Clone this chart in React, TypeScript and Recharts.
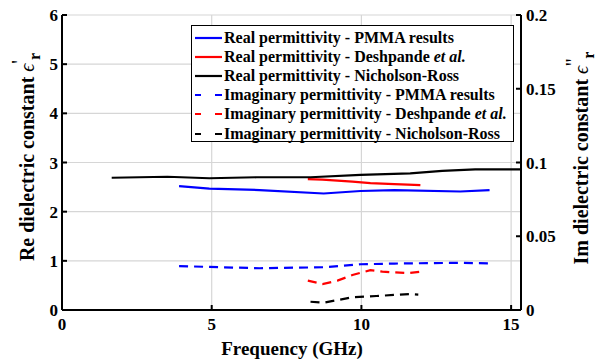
import React from "react";
import {
  ComposedChart,
  Line,
  XAxis,
  YAxis,
  CartesianGrid,
} from "recharts";

// PMMA measurement (real and imaginary share frequencies)
const pmmaFreq = [3.91, 4.92, 6.6, 8.74, 9.97, 11.1, 13.3, 14.28];
const pmmaReal = [2.52, 2.47, 2.44, 2.37, 2.42, 2.44, 2.41, 2.44];
const pmmaImag = [0.0298, 0.0292, 0.0283, 0.029, 0.031, 0.0315, 0.032, 0.0316];

// Deshpande et al. reference values
const deshFreq = [8.21, 8.7, 9.2, 9.7, 10.3, 10.7, 11.1, 11.55, 11.97];
const deshReal = [2.66, 2.65, 2.63, 2.61, 2.58, 2.57, 2.56, 2.55, 2.54];
const deshImag = [0.0199, 0.0176, 0.0199, 0.0237, 0.027, 0.026, 0.0255, 0.025, 0.026];

// Nicholson-Ross extraction
const nrRealFreq = [1.66, 3.52, 4.92, 6.5, 8.3, 9.97, 11.63, 12.7, 13.8, 15.33];
const nrReal = [2.69, 2.71, 2.68, 2.7, 2.7, 2.75, 2.78, 2.83, 2.86, 2.86];
const nrImagFreq = [8.3, 8.74, 9.7, 10.5, 11.6, 11.9];
const nrImag = [0.0056, 0.005, 0.0086, 0.0095, 0.0108, 0.0104];

const freqTicks = [0, 5, 10, 15];
const reTicks = [0, 1, 2, 3, 4, 5, 6];
const imTicks = [0, 0.05, 0.1, 0.15, 0.2];

const zip = (f: number[], v: number[]) => f.map((x, i) => ({ f: x, v: v[i] }));

type Series = {
  name: string;
  italic?: string;
  data: { f: number; v: number }[];
  axis: "re" | "im";
  color: string;
  dashed: boolean;
};

const series: Series[] = [
  { name: "Real permittivity - PMMA results", data: zip(pmmaFreq, pmmaReal), axis: "re", color: "#0000ff", dashed: false },
  { name: "Real permittivity - Deshpande ", italic: "et al.", data: zip(deshFreq, deshReal), axis: "re", color: "#ff0000", dashed: false },
  { name: "Real permittivity - Nicholson-Ross", data: zip(nrRealFreq, nrReal), axis: "re", color: "#000000", dashed: false },
  { name: "Imaginary permittivity - PMMA results", data: zip(pmmaFreq, pmmaImag), axis: "im", color: "#0000ff", dashed: true },
  { name: "Imaginary permittivity - Deshpande ", italic: "et al.", data: zip(deshFreq, deshImag), axis: "im", color: "#ff0000", dashed: true },
  { name: "Imaginary permittivity - Nicholson-Ross", data: zip(nrImagFreq, nrImag), axis: "im", color: "#000000", dashed: true },
];

const FONT = "'Liberation Serif', 'DejaVu Serif', serif";
const tickStyle = { fontFamily: FONT, fontSize: 17, fontWeight: 700, fill: "#000" };

function Legend() {
  return (
    <div
      style={{
        position: "absolute",
        left: 191,
        top: 25,
        width: 323,
        height: 117,
        border: "1.5px solid #000",
        background: "#fff",
        boxSizing: "border-box",
        padding: "2px 0 0 3px",
      }}
    >
      {series.map((s) => (
        <div
          key={s.name + s.axis}
          style={{ display: "flex", alignItems: "center", height: 19.2, fontFamily: FONT, fontSize: 16, fontWeight: 700, whiteSpace: "nowrap" }}
        >
          <svg width={27} height={6} style={{ marginRight: 2 }}>
            <line
              x1={0}
              y1={3}
              x2={27}
              y2={3}
              stroke={s.color}
              strokeWidth={2.2}
              strokeDasharray={s.dashed ? "6 14 7" : undefined}
            />
          </svg>
          <span>
            {s.name}
            {s.italic && <i>{s.italic}</i>}
          </span>
        </div>
      ))}
    </div>
  );
}

export default function App() {
  return (
    <div style={{ position: "fixed", left: 0, top: 0, width: 601, height: 362, background: "#fff" }}>
      <ComposedChart width={601} height={362} margin={{ top: 15, right: 20, bottom: 22, left: 12 }}>
        <CartesianGrid stroke="#d6d6d6" strokeWidth={1.2} yAxisId="re" />
        <XAxis
          dataKey="f"
          type="number"
          domain={[0, 15.33]}
          allowDataOverflow
          ticks={freqTicks}
          height={30}
          tick={tickStyle}
          tickSize={-5}
          tickMargin={13}
          stroke="#000"
          strokeWidth={2}
        />
        <XAxis
          xAxisId="top"
          dataKey="f"
          type="number"
          orientation="top"
          domain={[0, 15.33]}
          ticks={freqTicks}
          height={0}
          tick={false}
          tickSize={-5}
          stroke="#000"
          strokeWidth={2}
        />
        <YAxis
          yAxisId="re"
          domain={[0, 6]}
          ticks={reTicks}
          width={50}
          tick={tickStyle}
          tickSize={-5}
          tickMargin={9}
          stroke="#000"
          strokeWidth={2}
          label={{
            value: "Re dielectric constant ϵ'r",
            content: () => (
              <text
                transform="translate(34,157) rotate(-90)"
                textAnchor="middle"
                fontFamily={FONT}
                fontSize={20}
                fontWeight={700}
              >
                Re dielectric constant{" "}
                <tspan fontStyle="italic" fontWeight={400}>ϵ</tspan>
                <tspan dy={-8} fontWeight={400}>'</tspan>
                <tspan dy={14} fontSize={16}>r</tspan>
              </text>
            ),
          }}
        />
        <YAxis
          yAxisId="im"
          orientation="right"
          domain={[0, 0.2]}
          ticks={imTicks}
          width={60}
          tick={tickStyle}
          tickSize={-5}
          tickMargin={10}
          stroke="#000"
          strokeWidth={2}
          label={{
            value: "Im dielectric constant ϵ''r",
            content: () => (
              <text
                transform="translate(588,158) rotate(-90)"
                textAnchor="middle"
                fontFamily={FONT}
                fontSize={20}
                fontWeight={700}
              >
                Im dielectric constant{" "}
                <tspan fontStyle="italic" fontWeight={400}>ϵ</tspan>
                <tspan dy={-8} fontWeight={400}>''</tspan>
                <tspan dy={14} fontSize={16}>r</tspan>
              </text>
            ),
          }}
        />
        {series.map((s) => (
          <Line
            key={s.name + s.axis}
            yAxisId={s.axis}
            data={s.data}
            dataKey="v"
            type="linear"
            stroke={s.color}
            strokeWidth={2.2}
            strokeDasharray={s.dashed ? "9 6" : undefined}
            dot={false}
            activeDot={false}
            isAnimationActive={false}
          />
        ))}
        <text x={292} y={355} textAnchor="middle" fontFamily={FONT} fontSize={19} fontWeight={700}>
          Frequency (GHz)
        </text>
      </ComposedChart>
      <Legend />
    </div>
  );
}
